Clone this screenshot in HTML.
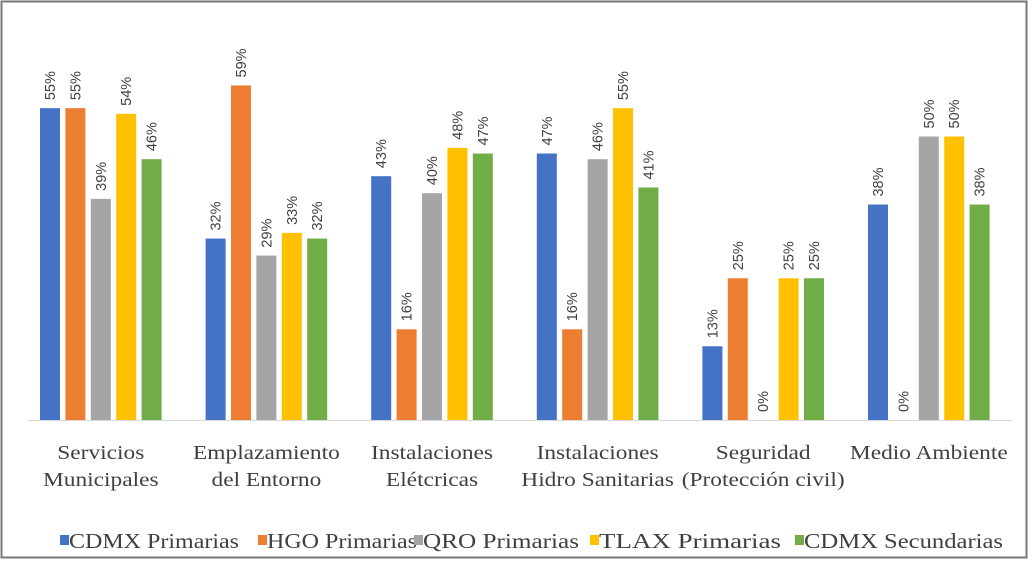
<!DOCTYPE html>
<html><head><meta charset="utf-8"><style>
body{margin:0;background:#fff;}
svg{display:block;font-family:"Liberation Serif",serif;}
</style></head><body>
<svg id="chart" width="1032" height="561" viewBox="0 0 1032 561">
<rect x="1.5" y="1.5" width="1025" height="556" fill="#fff" stroke="#777" stroke-width="2"/>
<line x1="28" y1="420.5" x2="1012" y2="420.5" stroke="#d9d9d9"/>
<g id="bars"></g><g id="labels"></g><g id="cats"></g><g id="legend"></g>
</svg>
<script>
const categories=[["Servicios","Municipales"],["Emplazamiento","del Entorno"],["Instalaciones","Elétcricas"],["Instalaciones","Hidro Sanitarias"],["Seguridad","(Protección civil)"],["Medio Ambiente",""]];
const seriesNames=["CDMX  Primarias","HGO  Primarias","QRO  Primarias","TLAX  Primarias","CDMX  Secundarias"];
const cdmxPrim=[55,32,43,47,13,38];
const hgoPrim=[55,59,16,16,25,0];
const qroPrim=[39,29,40,46,0,50];
const tlaxPrim=[54,33,48,55,25,50];
const cdmxSec=[46,32,47,41,25,38];
const series=[cdmxPrim,hgoPrim,qroPrim,tlaxPrim,cdmxSec];
const colors=["#4472c4","#ed7d31","#a5a5a5","#ffc000","#70ad47"];
const NS="http://www.w3.org/2000/svg";
const base=420, perPct=5.67;
const y=v=>base-v*perPct;
const x=(g,s)=>40+g*165.6+s*25.4;
const bw=20;
function mk(t,a,p){const e=document.createElementNS(NS,t);for(const k in a)e.setAttribute(k,a[k]);p.appendChild(e);return e;}
const bars=document.getElementById('bars'),labels=document.getElementById('labels'),cats=document.getElementById('cats'),legend=document.getElementById('legend');
series.forEach((arr,s)=>{arr.forEach((v,g)=>{
  const r=mk('rect',{x:x(g,s),y:y(v),width:bw,height:v*perPct,fill:colors[s]},bars);
  
  
  const cx=x(g,s)+bw/2+5, ty=y(v)-8;
  const t=mk('text',{x:0,y:0,transform:`translate(${cx},${ty}) rotate(-90)`,'font-family':'Liberation Sans, sans-serif','font-size':14.5,fill:'#404040'},labels);
  t.textContent=v+'%';
  
  
});});
categories.forEach((c,g)=>{
  const cx=x(g,2)+bw/2;
  c.forEach((line,i)=>{if(!line)return;
    const t=mk('text',{x:0,y:0,transform:`translate(${cx},${459+i*27}) scale(1.17,1)`,'text-anchor':'middle','font-size':20,fill:'#404040'},cats);
    t.textContent=line;
    
    
  });
});
const lx=[60,258,414,590,795];
const lw=[170,150,156,182,199];
seriesNames.forEach((n,i)=>{
  const r=mk('rect',{x:lx[i],y:535,width:9,height:10,fill:colors[i]},legend);
  
  
  const t=mk('text',{x:lx[i]+9,y:548,'font-size':21,fill:'#404040','xml:space':'preserve',textLength:lw[i],lengthAdjust:'spacingAndGlyphs'},legend);
  t.textContent=n;
  
  
});
</script>
</body></html>
